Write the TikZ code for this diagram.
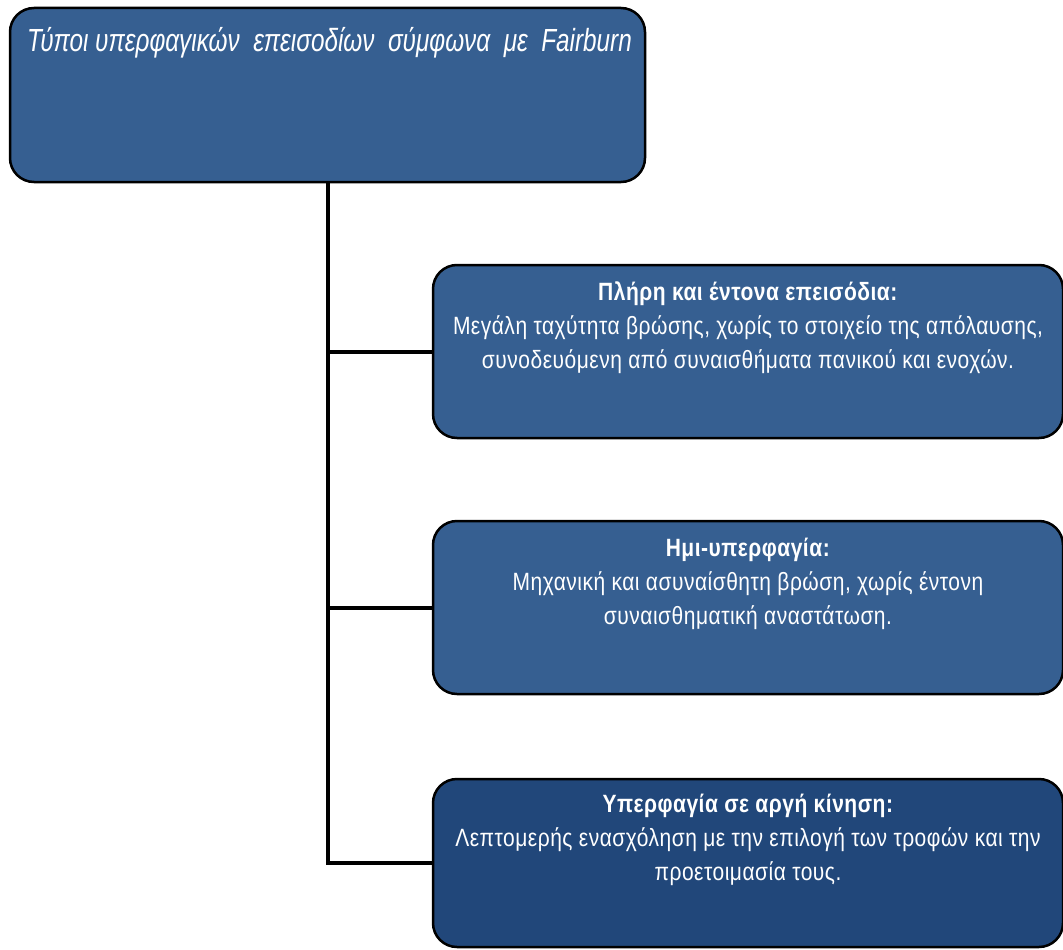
\documentclass[tikz,border=0pt]{standalone}
\usepackage{fontspec}
\setmainfont[FakeStretch=0.84,LetterSpace=2]{Liberation Sans}
\newfontfamily\titlefont[FakeStretch=0.76]{Liberation Sans}
\definecolor{boxblue}{RGB}{54,95,145}
\definecolor{darkblue}{RGB}{33,71,122}
\tikzset{
  diagbox/.style={draw=black, line width=2.5pt, rounded corners=24pt, fill=boxblue, inner sep=0pt},
  boxtext/.style={text=white, align=center, font=\fontsize{25}{34}\selectfont, inner sep=0pt},
  conn/.style={draw=black, line width=4pt}
}
\begin{document}
\begin{tikzpicture}[x=1pt, y=-1pt]
\useasboundingbox (0,0) rectangle (1063,950);
\begin{scope}
\clip (0,0) rectangle (1063,950);
\node[diagbox, minimum width=635pt, minimum height=174pt] (top) at (327.5,95) {};
\node[text=white, anchor=north west, inner sep=0pt, font=\titlefont\fontsize{32}{36}\selectfont\itshape] (title) at (27,27) {Τύποι\ υπερφαγικών\ \ επεισοδίων\ \ σύμφωνα\ \ με\ \ Fairburn};

\node[diagbox, minimum width=630pt, minimum height=173pt] (b1) at (748,351.5) {};
\node[boxtext, anchor=north] (t1) at ([yshift=-18pt]b1.north) {\textbf{Πλήρη και έντονα επεισόδια:}\\Μεγάλη ταχύτητα βρώσης, χωρίς το στοιχείο της απόλαυσης,\\συνοδευόμενη από συναισθήματα πανικού και ενοχών.};

\node[diagbox, minimum width=630pt, minimum height=173pt] (b2) at (748,607.5) {};
\node[boxtext, anchor=north] (t2) at ([yshift=-18pt]b2.north) {\textbf{Ημι-υπερφαγία:}\\Μηχανική και ασυναίσθητη βρώση, χωρίς έντονη\\συναισθηματική αναστάτωση.};

\node[diagbox, fill=darkblue, minimum width=630pt, minimum height=168pt] (b3) at (748,863) {};
\node[boxtext, anchor=north] (t3) at ([yshift=-16pt]b3.north) {\textbf{Υπερφαγία σε αργή κίνηση:}\\Λεπτομερής ενασχόληση με την επιλογή των τροφών και την\\προετοιμασία τους.};

\draw[conn] (top.south) -- (top.south |- b3.west) -- (b3.west);
\draw[conn] (top.south |- b1.west) -- (b1.west);
\draw[conn] (top.south |- b2.west) -- (b2.west);
\end{scope}
\end{tikzpicture}
\end{document}
